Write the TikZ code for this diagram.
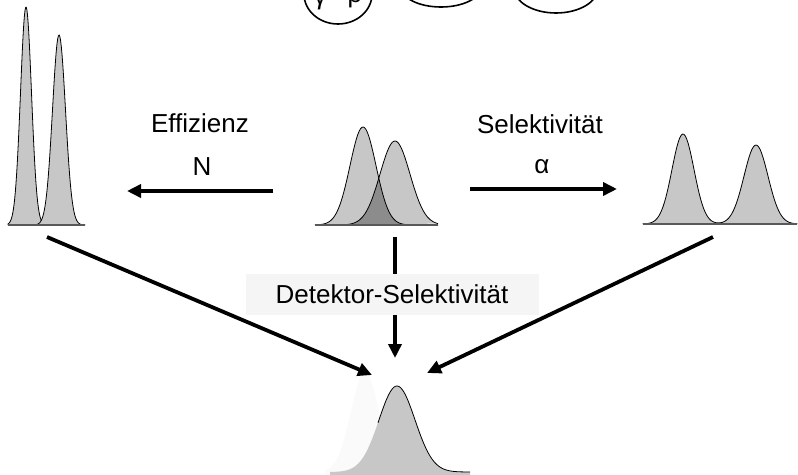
\documentclass[tikz,border=0pt]{standalone}
\usepackage{fontspec}
\setmainfont{Liberation Sans}
\usetikzlibrary{arrows.meta}

\begin{document}
\begin{tikzpicture}[x=1pt,y=-1pt,>={Triangle[length=14pt,width=13pt]},
                    font=\fontsize{26}{30}\selectfont,
                    declare function={g(\x,\m,\h,\s)=\h*exp(-0.5*((\x-\m)/\s)^2);}]

  \tikzstyle{pfeil}=[->,line width=3.8pt]
  \tikzstyle{peak}=[fill=black!22,draw=black,line width=0.8pt]
  \tikzstyle{grundlinie}=[draw=black!65,line width=1.2pt]
  \tikzstyle{blase}=[draw=black,line width=1.6pt]

  \useasboundingbox (0,0) rectangle (798,474);
  \clip (0,0) rectangle (798,474);

  % Blasen oben (abgeschnitten)
  \draw[blase] (338,-6) ellipse [x radius=34pt,y radius=30pt];
  \draw[blase] (441,-13) ellipse [x radius=40pt,y radius=20pt];
  \draw[blase] (556,-12) ellipse [x radius=42pt,y radius=25pt];
  \node[anchor=base] (gamma) at (320,4) {γ};
  \node[anchor=base] (rho)   at (355,2) {ρ};

  % Chromatogramm links
  \draw[peak] (8,225) -- plot[domain=8:50,samples=70] (\x,{225-g(\x,26,218,5.5)}) -- (50,225);
  \draw[peak] (34,225) -- plot[domain=34:85,samples=70] (\x,{225-g(\x,59,190,6.5)}) -- (85,225);
  \draw[grundlinie] (8,225) -- (85,225);

  % Chromatogramm Mitte
  \fill[black!22] (315,225) -- plot[domain=315:438,samples=90] (\x,{225-g(\x,363,98,13)}) -- cycle;
  \fill[black!22] (315,225) -- plot[domain=315:438,samples=90] (\x,{225-g(\x,395,84,15)}) -- cycle;
  \fill[black!45] (315,225) -- plot[domain=315:438,samples=90]
        (\x,{225-min(g(\x,363,98,13),g(\x,395,84,15))}) -- cycle;
  \draw[line width=0.8pt] plot[domain=315:438,samples=90] (\x,{225-g(\x,363,98,13)});
  \draw[line width=0.8pt] plot[domain=315:438,samples=90] (\x,{225-g(\x,395,84,15)});
  \draw[grundlinie] (315,225) -- (438,225);

  % Chromatogramm rechts
  \draw[peak] (643,224) -- plot[domain=643:797,samples=110]
        (\x,{224-g(\x,683,90,11)-g(\x,756,79,12)}) -- (797,224);
  \draw[grundlinie] (643,224) -- (797,224);

  % Chromatogramm unten
  \fill[black!2] (325,480) -- plot[domain=325:410,samples=60] (\x,{472-g(\x,365,100,14)}) -- (410,480) -- cycle;
  \fill[black!22] (330,480) -- plot[domain=330:470,samples=90] (\x,{472-g(\x,397,86,18)}) -- (470,480) -- cycle;
  \draw[line width=0.8pt] plot[domain=378:470,samples=70] (\x,{472-g(\x,397,86,18)});

  \coordinate (effA)    at (273,191);
  \coordinate (effB)    at (127,191);
  \coordinate (selA)    at (470,189);
  \coordinate (selB)    at (617,189);
  \coordinate (detA)    at (395,237);
  \coordinate (detB)    at (395,358);
  \coordinate (linksA)  at (47,237);
  \coordinate (untenL)  at (372,375);
  \coordinate (rechtsA) at (713,237);
  \coordinate (untenR)  at (427,373);

  \draw[pfeil] (effA) -- (effB);
  \draw[pfeil] (selA) -- (selB);
  \draw[pfeil] (detA) -- (detB);
  \draw[pfeil] (linksA) -- (untenL);
  \draw[pfeil] (rechtsA) -- (untenR);

  \node (effText)  at (200,123) {Effizienz};
  \node (effN)     at (202,167) {N};
  \node (selText)  at (540,124) {Selektivität};
  \node (selAlpha) at (542,167) {α};
  \node[fill=black!4,minimum width=293pt,minimum height=41pt] (detLabel) at (392,294.5)
        {Detektor-Selektivität};
\end{tikzpicture}
\end{document}
